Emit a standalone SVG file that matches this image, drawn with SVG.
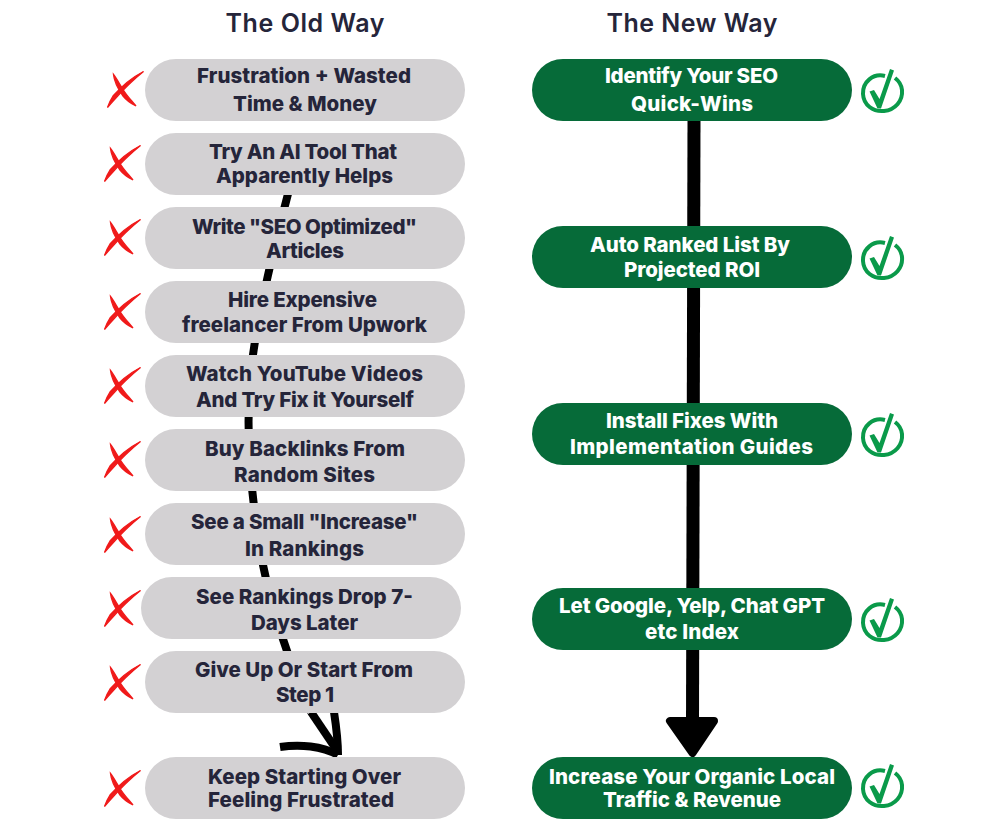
<svg xmlns="http://www.w3.org/2000/svg" width="1000" height="823" viewBox="0 0 1000 823">
<style>
.old{fill:#d3d1d3}.new{fill:#066b39}
text{font-family:"Inter","Liberation Sans",sans-serif;font-weight:800;font-size:20.5px}
.d{fill:#25253a}.w{fill:#fff}
.title{fill:#25253a;font-size:25px;font-weight:600}
.ln{fill:none;stroke:#000;stroke-linecap:butt}
</style>
<defs>
<g id="x"><path d="M143.500 71.500C131 78 120 88 113 96C111 99 109 103 107.500 107.500C110 105 112 102 115 99C122 91 133 80 143.500 71.500Z" fill="#f01a1a" stroke="#f01a1a" stroke-width="1.300"/><path d="M113.500 74.500C114 80 118 89 123 96C127 101 132 104 136 106C132 101 128 97 124 91C120 85 117 79 113.500 74.500Z" fill="#f01a1a" stroke="#f01a1a" stroke-width="1.300"/></g>
<g id="c"><path d="M885 76C873 73 862.500 82 863 94C863.500 105 873 112 884 111C895 110 903 101 902 90C901.500 85 899 81 895 78" fill="none" stroke="#0a9a4a" stroke-width="4"/><path d="M869.500 91.500L874 90L879.500 99L890 69L894 70.500L881 108.500L877.500 108.500Z" fill="#0a9a4a"/></g>
</defs>
<g id="connectors">
<path class="ln" stroke-width="8" d="M289 190C276 240 258 310 251 370C245 430 251 500 263 565C272 610 290 665 311 712"/>
<path class="ln" stroke-width="8" d="M311 712L338 752"/>
<path class="ln" stroke-width="8" d="M334 712C336 725 338 740 338 755"/>
<path class="ln" stroke-width="8" stroke-linecap="round" d="M280 747C300 744 322 746 338 755"/>
<path class="ln" stroke-width="13" d="M694 120L692.500 722"/>
<path d="M670 721L714 721L692.500 753Z" fill="#000" stroke="#000" stroke-width="8" stroke-linejoin="round"/>
</g>
<text class="title" x="305" y="32" text-anchor="middle" textLength="159">The Old Way</text>
<text class="title" x="692" y="32" text-anchor="middle" textLength="171">The New Way</text>
<g id="o1"><use href="#x"/><rect class="old" x="145" y="59" width="320" height="62" rx="31"/><text class="d" x="197" y="83" textLength="214">Frustration + Wasted</text><text class="d" x="233" y="111" textLength="144">Time &amp; Money</text></g>
<g id="o2"><use href="#x" x="-3" y="74"/><rect class="old" x="145" y="133" width="320" height="62" rx="31"/><text class="d" x="209" y="159" textLength="188">Try An AI Tool That</text><text class="d" x="216" y="183" textLength="177">Apparently Helps</text></g>
<g id="o3"><use href="#x" x="-3" y="148"/><rect class="old" x="145" y="207" width="320" height="62" rx="31"/><text class="d" x="192" y="234" textLength="225">Write "SEO Optimized"</text><text class="d" x="266" y="258" textLength="78">Articles</text></g>
<g id="o4"><use href="#x" x="-3" y="222"/><rect class="old" x="145" y="281" width="320" height="62" rx="31"/><text class="d" x="228" y="307" textLength="149">Hire Expensive</text><text class="d" x="182" y="332" textLength="245">freelancer From Upwork</text></g>
<g id="o5"><use href="#x" x="-3" y="296"/><rect class="old" x="145" y="355" width="320" height="62" rx="31"/><text class="d" x="186" y="381" textLength="237">Watch YouTube Videos</text><text class="d" x="196" y="407" textLength="218">And Try Fix it Yourself</text></g>
<g id="o6"><use href="#x" x="-3" y="370"/><rect class="old" x="145" y="429" width="320" height="62" rx="31"/><text class="d" x="205" y="456" textLength="200">Buy Backlinks From</text><text class="d" x="234" y="482" textLength="141">Random Sites</text></g>
<g id="o7"><use href="#x" x="-3" y="445"/><rect class="old" x="145" y="503" width="320" height="62" rx="31"/><text class="d" x="191" y="529" textLength="227">See a Small "Increase"</text><text class="d" x="245" y="556" textLength="119">In Rankings</text></g>
<g id="o8"><use href="#x" x="-3" y="519"/><rect class="old" x="141" y="577" width="320" height="62" rx="31"/><text class="d" x="196" y="604" textLength="217">See Rankings Drop 7-</text><text class="d" x="251" y="630" textLength="107">Days Later</text></g>
<g id="o9"><use href="#x" x="-3" y="593"/><rect class="old" x="145" y="651" width="320" height="62" rx="31"/><text class="d" x="195" y="677" textLength="218">Give Up Or Start From</text><text class="d" x="276" y="702" textLength="58">Step 1</text></g>
<g id="o10"><use href="#x" x="-3" y="699"/><rect class="old" x="145" y="757" width="320" height="62" rx="31"/><text class="d" x="208" y="784" textLength="193">Keep Starting Over</text><text class="d" x="208" y="807" textLength="186">Feeling Frustrated</text></g>
<g id="n1"><rect class="new" x="532" y="59" width="320" height="62" rx="31"/><text class="w" x="605" y="83" textLength="173">Identify Your SEO</text><text class="w" x="631" y="111" textLength="122">Quick-Wins</text><use href="#c"/></g>
<g id="n2"><rect class="new" x="532" y="226" width="320" height="62" rx="31"/><text class="w" x="590" y="252" textLength="200">Auto Ranked List By</text><text class="w" x="624" y="277" textLength="136">Projected ROI</text><use href="#c" y="167"/></g>
<g id="n3"><rect class="new" x="532" y="403" width="320" height="62" rx="31"/><text class="w" x="606" y="428" textLength="172">Install Fixes With</text><text class="w" x="570" y="454" textLength="243">Implementation Guides</text><use href="#c" y="344"/></g>
<g id="n4"><rect class="new" x="532" y="588" width="320" height="62" rx="31"/><text class="w" x="559" y="613" textLength="266">Let Google, Yelp, Chat GPT</text><text class="w" x="645" y="639" textLength="94">etc Index</text><use href="#c" y="529"/></g>
<g id="n5"><rect class="new" x="532" y="757" width="320" height="62" rx="31"/><text class="w" x="549" y="784" textLength="286">Increase Your Organic Local</text><text class="w" x="603" y="807" textLength="178">Traffic &amp; Revenue</text><use href="#c" y="695"/></g>
</svg>
